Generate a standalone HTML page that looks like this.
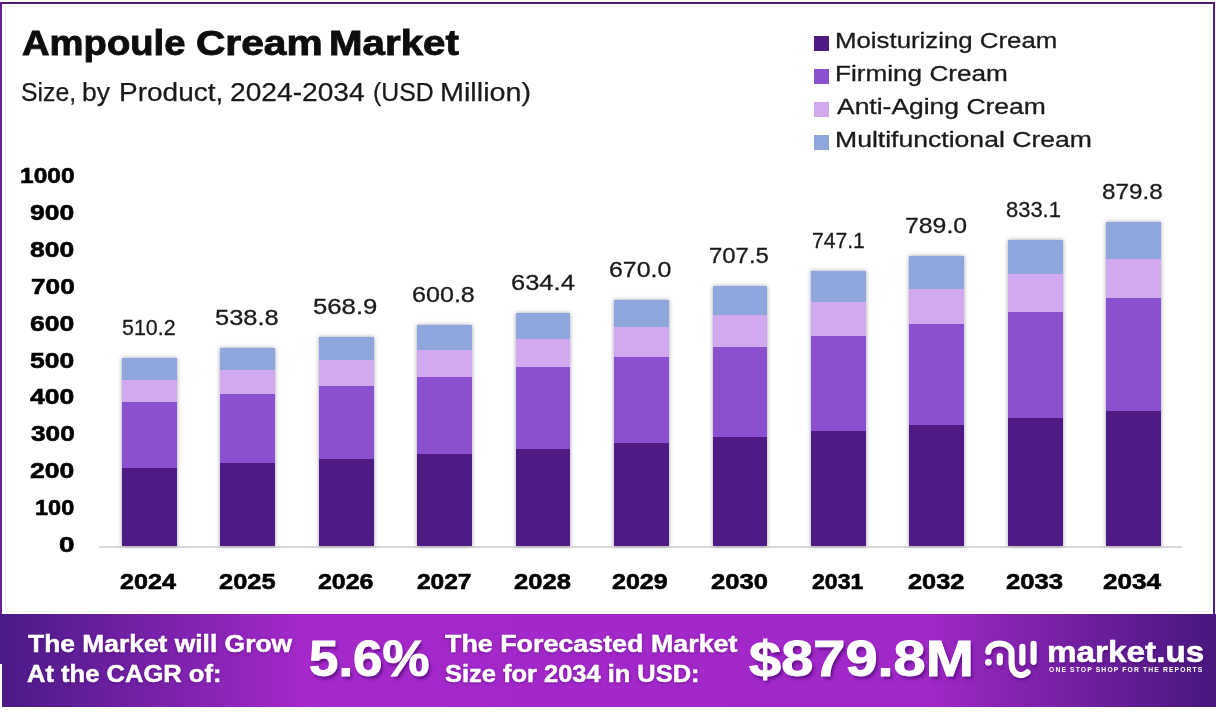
<!DOCTYPE html>
<html lang="en">
<head>
<meta charset="utf-8">
<title>Ampoule Cream Market</title>
<style>
html,body{margin:0;padding:0;background:#fff;}
body{width:1216px;height:714px;position:relative;overflow:hidden;font-family:"Liberation Sans",sans-serif;}
#frame{position:absolute;left:0;top:2px;width:1211px;height:610px;border:2px solid #6a1e96;border-top-color:#4f1b70;border-right-color:#531c82;border-bottom:none;background:#fff;box-sizing:content-box;}
.t{position:absolute;white-space:nowrap;transform-origin:0 0;display:block;}
.sq{position:absolute;width:15px;height:15px;display:block;}
.bar{position:absolute;box-shadow:0 0 4px rgba(60,55,85,.5);}
.bar i{position:absolute;left:0;width:100%;display:block;}
#inner{position:absolute;left:5px;top:6px;width:1203px;height:604px;border:1px solid #f3f3f3;}
#axis{position:absolute;left:99px;top:546px;width:1083px;height:1.5px;background:#d9d9d9;}
#footer{position:absolute;left:0;top:613.5px;width:1216px;height:93.5px;
 background:linear-gradient(90deg,#4a1a86 0%,#a428ca 25%,#a128c8 76%,#47177d 100%);}
#notch{position:absolute;left:0;top:664px;width:1.5px;height:43px;background:#fff;}
</style>
</head>
<body>
<div id="frame"></div>
<div id="inner"></div>
<div id="axis"></div>
<i class="sq" style="left:814px;top:35.5px;background:#4f1a83"></i>
<i class="sq" style="left:814px;top:68.6px;background:#8a50cf"></i>
<i class="sq" style="left:814px;top:101.6px;background:#d2a8ef"></i>
<i class="sq" style="left:814px;top:134.6px;background:#8fa6dc"></i>
<div class="bar" style="left:122.00px;top:358.30px;width:54.8px;height:187.70px"><i style="top:0.00px;height:21.51px;background:#8fa6dc"></i><i style="top:21.21px;height:23.20px;background:#d2a8ef"></i><i style="top:44.11px;height:65.62px;background:#8a50cf"></i><i style="top:109.43px;height:78.57px;background:#4f1a83"></i></div>
<div class="bar" style="left:220.42px;top:347.78px;width:54.8px;height:198.22px"><i style="top:0.00px;height:22.70px;background:#8fa6dc"></i><i style="top:22.40px;height:24.48px;background:#d2a8ef"></i><i style="top:46.58px;height:69.28px;background:#8a50cf"></i><i style="top:115.56px;height:82.96px;background:#4f1a83"></i></div>
<div class="bar" style="left:318.84px;top:336.70px;width:54.8px;height:209.30px"><i style="top:0.00px;height:23.95px;background:#8fa6dc"></i><i style="top:23.65px;height:25.83px;background:#d2a8ef"></i><i style="top:49.19px;height:73.14px;background:#8a50cf"></i><i style="top:122.02px;height:87.58px;background:#4f1a83"></i></div>
<div class="bar" style="left:417.26px;top:324.97px;width:54.8px;height:221.03px"><i style="top:0.00px;height:25.28px;background:#8fa6dc"></i><i style="top:24.98px;height:27.27px;background:#d2a8ef"></i><i style="top:51.94px;height:77.22px;background:#8a50cf"></i><i style="top:128.86px;height:92.47px;background:#4f1a83"></i></div>
<div class="bar" style="left:515.68px;top:312.60px;width:54.8px;height:233.40px"><i style="top:0.00px;height:26.67px;background:#8fa6dc"></i><i style="top:26.37px;height:28.77px;background:#d2a8ef"></i><i style="top:54.85px;height:81.52px;background:#8a50cf"></i><i style="top:136.07px;height:97.63px;background:#4f1a83"></i></div>
<div class="bar" style="left:614.10px;top:299.51px;width:54.8px;height:246.49px"><i style="top:0.00px;height:28.15px;background:#8fa6dc"></i><i style="top:27.85px;height:30.37px;background:#d2a8ef"></i><i style="top:57.93px;height:86.08px;background:#8a50cf"></i><i style="top:143.71px;height:103.09px;background:#4f1a83"></i></div>
<div class="bar" style="left:712.52px;top:285.71px;width:54.8px;height:260.29px"><i style="top:0.00px;height:29.71px;background:#8fa6dc"></i><i style="top:29.41px;height:32.06px;background:#d2a8ef"></i><i style="top:61.17px;height:90.88px;background:#8a50cf"></i><i style="top:151.75px;height:108.84px;background:#4f1a83"></i></div>
<div class="bar" style="left:810.94px;top:271.14px;width:54.8px;height:274.86px"><i style="top:0.00px;height:31.36px;background:#8fa6dc"></i><i style="top:31.06px;height:33.83px;background:#d2a8ef"></i><i style="top:64.59px;height:95.95px;background:#8a50cf"></i><i style="top:160.24px;height:114.92px;background:#4f1a83"></i></div>
<div class="bar" style="left:909.36px;top:255.73px;width:54.8px;height:290.27px"><i style="top:0.00px;height:33.10px;background:#8fa6dc"></i><i style="top:32.80px;height:35.71px;background:#d2a8ef"></i><i style="top:68.21px;height:101.32px;background:#8a50cf"></i><i style="top:169.23px;height:121.34px;background:#4f1a83"></i></div>
<div class="bar" style="left:1007.78px;top:239.50px;width:54.8px;height:306.50px"><i style="top:0.00px;height:34.93px;background:#8fa6dc"></i><i style="top:34.63px;height:37.69px;background:#d2a8ef"></i><i style="top:72.03px;height:106.96px;background:#8a50cf"></i><i style="top:178.69px;height:128.11px;background:#4f1a83"></i></div>
<div class="bar" style="left:1106.20px;top:222.32px;width:54.8px;height:323.68px"><i style="top:0.00px;height:36.88px;background:#8fa6dc"></i><i style="top:36.58px;height:39.79px;background:#d2a8ef"></i><i style="top:76.06px;height:112.94px;background:#8a50cf"></i><i style="top:188.70px;height:135.27px;background:#4f1a83"></i></div>
<div id="footer"></div>
<div id="notch"></div>
<svg id="logo" style="position:absolute;left:975px;top:625px;filter:drop-shadow(1px 2px 1.5px rgba(60,0,100,.55));" width="80" height="65" viewBox="975 625 80 65" fill="none" stroke="#fff" stroke-width="6.2" stroke-linecap="round" stroke-linejoin="round">
<path d="M988.3 651.8 C988.3 640.6 1011.6 640.6 1011.6 652.8 L1011.6 663 C1011.6 676.8 1023.5 677 1027.5 672.3"/>
<path d="M999.8 656.2 V662.4"/>
<path d="M1022.4 646.8 V662.6"/>
<path d="M1033.6 643.9 V661.8"/>
<circle cx="988.4" cy="662.3" r="3.4" fill="#fff" stroke="none"/>
</svg>
<span class="t " style="left:21.54px;top:21.91px;font-size:35.60px;line-height:43px;font-weight:700;color:#0d0d0d;transform:scaleX(1.0736);-webkit-text-stroke:0.9px #0d0d0d;">Ampoule</span>
<span class="t " style="left:195.83px;top:21.91px;font-size:35.60px;line-height:43px;font-weight:700;color:#0d0d0d;transform:scaleX(1.1432);-webkit-text-stroke:0.9px #0d0d0d;">Cream</span>
<span class="t " style="left:328.55px;top:21.91px;font-size:35.60px;line-height:43px;font-weight:700;color:#0d0d0d;transform:scaleX(1.1321);-webkit-text-stroke:0.9px #0d0d0d;">Market</span>
<span class="t " style="left:21.38px;top:76.70px;font-size:25.40px;line-height:30px;font-weight:400;color:#1a1a1a;transform:scaleX(0.9758);-webkit-text-stroke:0.25px #1a1a1a;">Size,</span>
<span class="t " style="left:82.05px;top:76.70px;font-size:25.40px;line-height:30px;font-weight:400;color:#1a1a1a;transform:scaleX(1.0439);-webkit-text-stroke:0.25px #1a1a1a;">by</span>
<span class="t " style="left:119.45px;top:76.70px;font-size:25.40px;line-height:30px;font-weight:400;color:#1a1a1a;transform:scaleX(1.1028);-webkit-text-stroke:0.25px #1a1a1a;">Product,</span>
<span class="t " style="left:229.84px;top:76.70px;font-size:25.40px;line-height:30px;font-weight:400;color:#1a1a1a;transform:scaleX(1.1092);-webkit-text-stroke:0.25px #1a1a1a;">2024-2034</span>
<span class="t " style="left:372.96px;top:76.70px;font-size:25.40px;line-height:30px;font-weight:400;color:#1a1a1a;transform:scaleX(0.9779);-webkit-text-stroke:0.25px #1a1a1a;">(USD</span>
<span class="t " style="left:440.14px;top:76.70px;font-size:25.40px;line-height:30px;font-weight:400;color:#1a1a1a;transform:scaleX(1.1330);-webkit-text-stroke:0.25px #1a1a1a;">Million)</span>
<span class="t " style="left:835.38px;top:28.20px;font-size:21.80px;line-height:26px;font-weight:400;color:#1a1a1a;transform:scaleX(1.1840);-webkit-text-stroke:0.3px #1a1a1a;">Moisturizing Cream</span>
<span class="t " style="left:835.36px;top:61.20px;font-size:21.80px;line-height:26px;font-weight:400;color:#1a1a1a;transform:scaleX(1.1993);-webkit-text-stroke:0.3px #1a1a1a;">Firming Cream</span>
<span class="t " style="left:837.45px;top:94.45px;font-size:21.80px;line-height:26px;font-weight:400;color:#1a1a1a;transform:scaleX(1.2136);-webkit-text-stroke:0.3px #1a1a1a;">Anti-Aging Cream</span>
<span class="t " style="left:835.32px;top:127.20px;font-size:21.80px;line-height:26px;font-weight:400;color:#1a1a1a;transform:scaleX(1.2188);-webkit-text-stroke:0.3px #1a1a1a;">Multifunctional Cream</span>
<span class="t " style="left:19.75px;top:162.34px;font-size:22.40px;line-height:27px;font-weight:700;color:#000;transform:scaleX(1.0950);-webkit-text-stroke:0.6px #000;">1000</span>
<span class="t " style="left:30.20px;top:199.18px;font-size:22.40px;line-height:27px;font-weight:700;color:#000;transform:scaleX(1.1826);-webkit-text-stroke:0.6px #000;">900</span>
<span class="t " style="left:30.18px;top:236.02px;font-size:22.40px;line-height:27px;font-weight:700;color:#000;transform:scaleX(1.1832);-webkit-text-stroke:0.6px #000;">800</span>
<span class="t " style="left:30.67px;top:272.86px;font-size:22.40px;line-height:27px;font-weight:700;color:#000;transform:scaleX(1.1696);-webkit-text-stroke:0.6px #000;">700</span>
<span class="t " style="left:30.04px;top:309.70px;font-size:22.40px;line-height:27px;font-weight:700;color:#000;transform:scaleX(1.1869);-webkit-text-stroke:0.6px #000;">600</span>
<span class="t " style="left:30.18px;top:346.54px;font-size:22.40px;line-height:27px;font-weight:700;color:#000;transform:scaleX(1.1832);-webkit-text-stroke:0.6px #000;">500</span>
<span class="t " style="left:30.10px;top:383.38px;font-size:22.40px;line-height:27px;font-weight:700;color:#000;transform:scaleX(1.1853);-webkit-text-stroke:0.6px #000;">400</span>
<span class="t " style="left:30.60px;top:420.22px;font-size:22.40px;line-height:27px;font-weight:700;color:#000;transform:scaleX(1.1717);-webkit-text-stroke:0.6px #000;">300</span>
<span class="t " style="left:30.10px;top:457.06px;font-size:22.40px;line-height:27px;font-weight:700;color:#000;transform:scaleX(1.1854);-webkit-text-stroke:0.6px #000;">200</span>
<span class="t " style="left:35.02px;top:493.90px;font-size:22.40px;line-height:27px;font-weight:700;color:#000;transform:scaleX(1.0504);-webkit-text-stroke:0.6px #000;">100</span>
<span class="t " style="left:58.91px;top:530.74px;font-size:22.40px;line-height:27px;font-weight:700;color:#000;transform:scaleX(1.2474);-webkit-text-stroke:0.6px #000;">0</span>
<span class="t " style="left:120.39px;top:568.24px;font-size:22.40px;line-height:27px;font-weight:700;color:#000;transform:scaleX(1.1237);-webkit-text-stroke:0.6px #000;">2024</span>
<span class="t " style="left:122.14px;top:314.47px;font-size:22.60px;line-height:27px;font-weight:400;color:#1a1a1a;transform:scaleX(0.9484);-webkit-text-stroke:0.3px #1a1a1a;">510.2</span>
<span class="t " style="left:219.14px;top:568.24px;font-size:22.40px;line-height:27px;font-weight:700;color:#000;transform:scaleX(1.1352);-webkit-text-stroke:0.6px #000;">2025</span>
<span class="t " style="left:215.38px;top:303.94px;font-size:22.60px;line-height:27px;font-weight:400;color:#1a1a1a;transform:scaleX(1.1268);-webkit-text-stroke:0.3px #1a1a1a;">538.8</span>
<span class="t " style="left:317.90px;top:568.24px;font-size:22.40px;line-height:27px;font-weight:700;color:#000;transform:scaleX(1.1140);-webkit-text-stroke:0.6px #000;">2026</span>
<span class="t " style="left:313.47px;top:292.87px;font-size:22.60px;line-height:27px;font-weight:400;color:#1a1a1a;transform:scaleX(1.1378);-webkit-text-stroke:0.3px #1a1a1a;">568.9</span>
<span class="t " style="left:417.27px;top:568.24px;font-size:22.40px;line-height:27px;font-weight:700;color:#000;transform:scaleX(1.0937);-webkit-text-stroke:0.6px #000;">2027</span>
<span class="t " style="left:411.94px;top:281.13px;font-size:22.60px;line-height:27px;font-weight:400;color:#1a1a1a;transform:scaleX(1.1112);-webkit-text-stroke:0.3px #1a1a1a;">600.8</span>
<span class="t " style="left:514.23px;top:568.24px;font-size:22.40px;line-height:27px;font-weight:700;color:#000;transform:scaleX(1.1429);-webkit-text-stroke:0.6px #000;">2028</span>
<span class="t " style="left:511.22px;top:268.77px;font-size:22.60px;line-height:27px;font-weight:400;color:#1a1a1a;transform:scaleX(1.1286);-webkit-text-stroke:0.3px #1a1a1a;">634.4</span>
<span class="t " style="left:612.35px;top:568.24px;font-size:22.40px;line-height:27px;font-weight:700;color:#000;transform:scaleX(1.1176);-webkit-text-stroke:0.6px #000;">2029</span>
<span class="t " style="left:609.15px;top:255.68px;font-size:22.60px;line-height:27px;font-weight:400;color:#1a1a1a;transform:scaleX(1.1039);-webkit-text-stroke:0.3px #1a1a1a;">670.0</span>
<span class="t " style="left:710.93px;top:568.24px;font-size:22.40px;line-height:27px;font-weight:700;color:#000;transform:scaleX(1.1426);-webkit-text-stroke:0.6px #000;">2030</span>
<span class="t " style="left:708.78px;top:241.88px;font-size:22.60px;line-height:27px;font-weight:400;color:#1a1a1a;transform:scaleX(1.0580);-webkit-text-stroke:0.3px #1a1a1a;">707.5</span>
<span class="t " style="left:812.21px;top:568.24px;font-size:22.40px;line-height:27px;font-weight:700;color:#000;transform:scaleX(1.0320);-webkit-text-stroke:0.6px #000;">2031</span>
<span class="t " style="left:811.92px;top:227.31px;font-size:22.60px;line-height:27px;font-weight:400;color:#1a1a1a;transform:scaleX(0.9336);-webkit-text-stroke:0.3px #1a1a1a;">747.1</span>
<span class="t " style="left:908.24px;top:568.24px;font-size:22.40px;line-height:27px;font-weight:700;color:#000;transform:scaleX(1.1337);-webkit-text-stroke:0.6px #000;">2032</span>
<span class="t " style="left:904.53px;top:211.90px;font-size:22.60px;line-height:27px;font-weight:400;color:#1a1a1a;transform:scaleX(1.0989);-webkit-text-stroke:0.3px #1a1a1a;">789.0</span>
<span class="t " style="left:1006.23px;top:568.24px;font-size:22.40px;line-height:27px;font-weight:700;color:#000;transform:scaleX(1.1461);-webkit-text-stroke:0.6px #000;">2033</span>
<span class="t " style="left:1006.16px;top:195.67px;font-size:22.60px;line-height:27px;font-weight:400;color:#1a1a1a;transform:scaleX(0.9708);-webkit-text-stroke:0.3px #1a1a1a;">833.1</span>
<span class="t " style="left:1103.21px;top:568.24px;font-size:22.40px;line-height:27px;font-weight:700;color:#000;transform:scaleX(1.1626);-webkit-text-stroke:0.6px #000;">2034</span>
<span class="t " style="left:1102.36px;top:178.49px;font-size:22.60px;line-height:27px;font-weight:400;color:#1a1a1a;transform:scaleX(1.0732);-webkit-text-stroke:0.3px #1a1a1a;">879.8</span>
<span class="t " style="left:27.71px;top:629.14px;font-size:24.70px;line-height:30px;font-weight:700;color:#fff;transform:scaleX(1.0696);text-shadow:0 1px 3px rgba(60,0,90,.55);-webkit-text-stroke:0.5px #fff;">The Market will Grow</span>
<span class="t " style="left:27.36px;top:659.44px;font-size:24.70px;line-height:30px;font-weight:700;color:#fff;transform:scaleX(1.0353);text-shadow:0 1px 3px rgba(60,0,90,.55);-webkit-text-stroke:0.5px #fff;">At the CAGR of:</span>
<span class="t " style="left:445.20px;top:629.34px;font-size:24.70px;line-height:30px;font-weight:700;color:#fff;transform:scaleX(1.0876);text-shadow:0 1px 3px rgba(60,0,90,.55);-webkit-text-stroke:0.5px #fff;">The Forecasted Market</span>
<span class="t " style="left:444.76px;top:659.44px;font-size:24.70px;line-height:30px;font-weight:700;color:#fff;transform:scaleX(1.0308);text-shadow:0 1px 3px rgba(60,0,90,.55);-webkit-text-stroke:0.5px #fff;">Size for 2034 in USD:</span>
<span class="t " style="left:308.86px;top:628.67px;font-size:50.00px;line-height:60px;font-weight:700;color:#fff;transform:scaleX(1.0576);text-shadow:2px 3px 3px rgba(60,0,100,.6);-webkit-text-stroke:1.0px #fff;">5.6%</span>
<span class="t " style="left:748.75px;top:628.67px;font-size:50.00px;line-height:60px;font-weight:700;color:#fff;transform:scaleX(1.1558);text-shadow:2px 3px 3px rgba(60,0,100,.6);-webkit-text-stroke:1.0px #fff;">$879.8M</span>
<span class="t " style="left:1046.80px;top:633.71px;font-size:30.00px;line-height:36px;font-weight:700;color:#fff;transform:scaleX(1.1097);text-shadow:1px 2px 2px rgba(60,0,100,.5);-webkit-text-stroke:0.6px #fff;">market.us</span>
<span class="t " style="left:1049.42px;top:664.91px;font-size:7.20px;line-height:9px;font-weight:700;color:#fff;transform:scaleX(0.9407);letter-spacing:1.2px;">ONE STOP SHOP FOR THE REPORTS</span>
</body>
</html>
